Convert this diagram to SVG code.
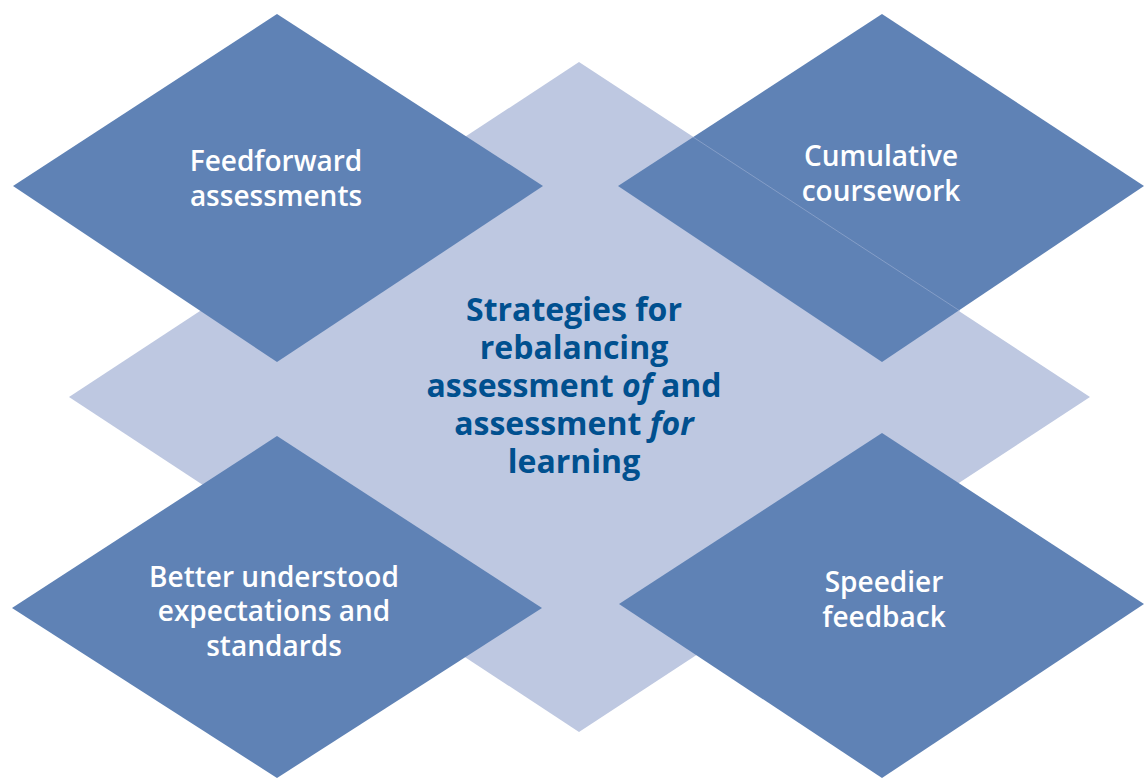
<svg xmlns="http://www.w3.org/2000/svg" width="1144" height="778" viewBox="0 0 1144 778">
<style>
.dark{fill:#5F82B5}
.light{fill:#BEC8E1}
.lbl{font-family:"Open Sans","Liberation Sans",sans-serif;font-size:28px;font-weight:600;fill:#fff;text-anchor:middle}
.ctr{font-family:"Open Sans","Liberation Sans",sans-serif;font-size:32px;font-weight:700;fill:#00508F;text-anchor:middle}
</style>
<rect width="1144" height="778" fill="#fff"/>
<g id="center">
<polygon class="light" points="579,62 1090,397 579,732 69,397"/>
<text class="ctr"><tspan x="574" y="321">Strategies for</tspan><tspan x="574" y="359">rebalancing</tspan><tspan x="574" y="397">assessment <tspan font-style="italic">of</tspan> and</tspan><tspan x="574" y="435">assessment <tspan font-style="italic">for</tspan></tspan><tspan x="574" y="473">learning</tspan></text>
</g>
<g id="feedforward">
<polygon class="dark" points="277,14 543,186 277,362 13,186"/>
<text class="lbl"><tspan x="276" y="171">Feedforward</tspan><tspan x="276" y="206">assessments</tspan></text>
</g>
<g id="cumulative">
<polygon class="dark" points="882,14 1144,186 882,362 618,186"/>
<line x1="693" y1="137" x2="960" y2="311" stroke="#9DB0D3" stroke-width="0.6"/>
<text class="lbl"><tspan x="881" y="166">Cumulative</tspan><tspan x="881" y="201">coursework</tspan></text>
</g>
<g id="better">
<polygon class="dark" points="277,436 542,608 277,778 12,608"/>
<text class="lbl"><tspan x="274" y="587">Better understood</tspan><tspan x="274" y="621">expectations and</tspan><tspan x="274" y="656">standards</tspan></text>
</g>
<g id="speedier">
<polygon class="dark" points="882,433 1144,604 882,778 619,604"/>
<text class="lbl"><tspan x="884" y="592">Speedier</tspan><tspan x="884" y="627">feedback</tspan></text>
</g>
<g id="connectors"/>
</svg>
